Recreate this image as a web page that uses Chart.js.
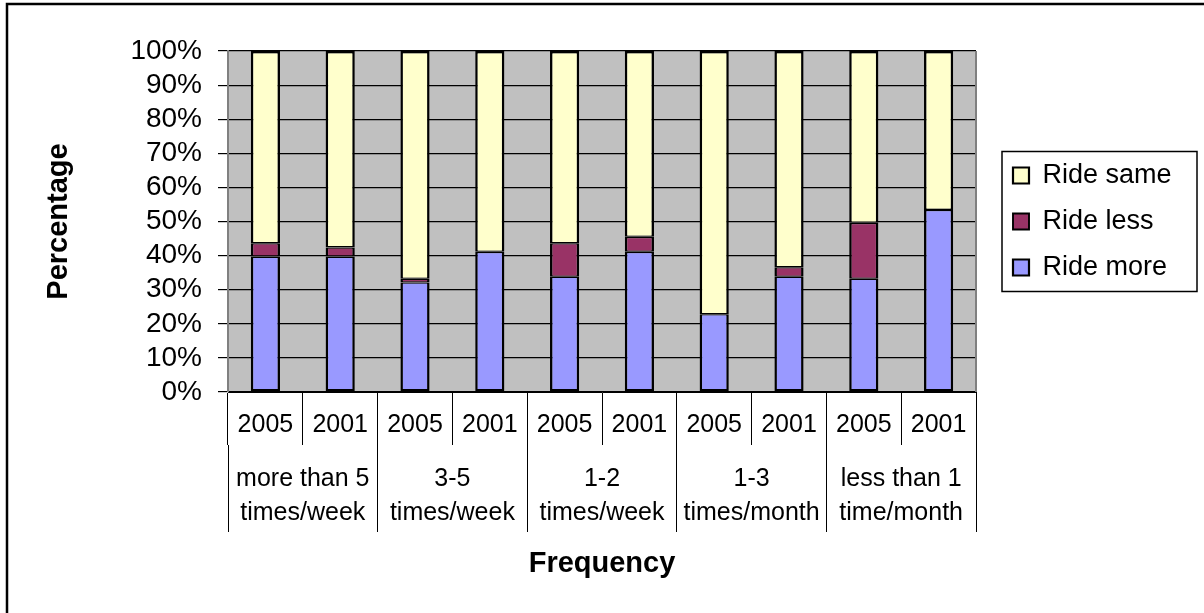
<!DOCTYPE html>
<html>
<head>
<meta charset="utf-8">
<script src="https://cdn.jsdelivr.net/npm/chart.js@4.4.1/dist/chart.umd.min.js"></script>
<style>
  html, body { margin: 0; padding: 0; background: #fff; }
  #wrap { width: 1204px; height: 613px; position: relative; }
</style>
</head>
<body>
<div id="wrap"><canvas id="rideChart"></canvas></div>
<script>
// bars: 2005 / 2001 pairs for each riding frequency
var yearLabels = ['2005', '2001', '2005', '2001', '2005', '2001', '2005', '2001', '2005', '2001'];
var groupLabels = [
  ['more than 5', 'times/week'],
  ['3-5', 'times/week'],
  ['1-2', 'times/week'],
  ['1-3', 'times/month'],
  ['less than 1', 'time/month']
];
var rideMore = [39.7, 39.7, 32.1, 41.1, 33.8, 41.1, 22.8, 33.8, 33.2, 53.4];
var rideLess = [3.9, 2.7, 1.1, 0, 9.8, 4.4, 0, 2.8, 16.4, 0];
var rideSame = [56.4, 57.6, 66.8, 58.9, 56.4, 54.5, 77.2, 63.4, 50.4, 46.6];

Chart.defaults.font.family = '"Liberation Sans", Arial, sans-serif';
Chart.defaults.color = '#000';

var framePlugin = {
  id: 'frame',
  beforeDraw: function (chart) {
    var ctx = chart.ctx, a = chart.chartArea;
    ctx.save();
    ctx.fillStyle = '#fff';
    ctx.fillRect(0, 0, chart.width, chart.height);
    ctx.fillStyle = '#C0C0C0';
    ctx.fillRect(a.left, a.top, a.right - a.left, a.bottom - a.top);
    ctx.restore();
  },
  beforeDatasetsDraw: function (chart) {
    var ctx = chart.ctx, a = chart.chartArea;
    ctx.save();
    ctx.strokeStyle = '#808080';
    ctx.lineWidth = 2;
    ctx.beginPath();
    ctx.moveTo(a.right, a.top);
    ctx.lineTo(a.right, a.bottom);
    ctx.stroke();
    ctx.restore();
  },
  afterDraw: function (chart) {
    var ctx = chart.ctx, lg = chart.legend;
    ctx.save();
    // legend box
    var yc = (lg.top + lg.bottom) / 2;
    ctx.strokeStyle = '#000';
    ctx.lineWidth = 1.5;
    ctx.strokeRect(lg.left + 8, yc - 70, 195, 140);
    // outer chart frame (right and bottom edges fall outside the picture)
    ctx.lineWidth = 2.5;
    ctx.beginPath();
    ctx.moveTo(7, chart.height);
    ctx.lineTo(7, 4);
    ctx.lineTo(chart.width, 4);
    ctx.stroke();
    ctx.restore();
  }
};

var ctx = document.getElementById('rideChart').getContext('2d');
var rideChart = new Chart(ctx, {
  type: 'bar',
  data: {
    labels: yearLabels,
    datasets: [
      {
        label: 'Ride more',
        data: rideMore,
        backgroundColor: '#9999FF',
        borderColor: '#000',
        borderWidth: { top: 1.3, bottom: 2.5, left: 2.5, right: 2.5 },
        borderSkipped: false
      },
      {
        label: 'Ride less',
        data: rideLess,
        backgroundColor: '#993366',
        borderColor: '#000',
        borderWidth: { top: 1.3, bottom: 1.3, left: 2.5, right: 2.5 },
        borderSkipped: false
      },
      {
        label: 'Ride same',
        data: rideSame,
        backgroundColor: '#FFFFCC',
        borderColor: '#000',
        borderWidth: { top: 2.5, bottom: 1.3, left: 2.5, right: 2.5 },
        borderSkipped: false
      }
    ]
  },
  options: {
    responsive: true,
    maintainAspectRatio: false,
    animation: false,
    barPercentage: 0.39,
    categoryPercentage: 1.0,
    layout: { padding: { top: 51, left: 0, right: 30, bottom: 0 } },
    scales: {
      x: {
        type: 'category',
        stacked: true,
        offset: true,
        weight: 0,
        grid: { offset: true, drawOnChartArea: false, tickLength: 53, color: '#000', lineWidth: 1 },
        border: { display: true, color: '#000', width: 1 },
        ticks: { padding: -34.5, font: { size: 25 }, maxRotation: 0, autoSkip: false },
        afterFit: function (s) { s.height = 53; }
      },
      groups: {
        type: 'category',
        position: 'bottom',
        labels: groupLabels,
        offset: true,
        weight: 1,
        grid: { offset: true, drawOnChartArea: false, tickLength: 87, color: '#000', lineWidth: 1 },
        border: { display: false },
        ticks: { padding: -70, font: { size: 25, lineHeight: 1.36 }, maxRotation: 0, autoSkip: false },
        title: {
          display: true,
          text: 'Frequency',
          font: { size: 29, weight: 'bold' },
          padding: { top: 0, bottom: 32 }
        },
        afterFit: function (s) { s.height = 168; }
      },
      y: {
        stacked: true,
        min: 0,
        max: 100,
        ticks: {
          stepSize: 10,
          autoSkip: false,
          padding: 16,
          font: { size: 28 },
          callback: function (v) { return v + '%'; }
        },
        grid: { color: '#000', lineWidth: 1.2, tickLength: 10, tickColor: '#000' },
        border: { display: true, color: '#808080', width: 2 },
        title: {
          display: true,
          text: 'Percentage',
          font: { size: 29, weight: 'bold' },
          padding: { top: 42, bottom: 0 }
        },
        afterFit: function (s) { s.width = 228; }
      },
      spacer: {
        type: 'linear',
        position: 'right',
        display: true,
        grid: { display: false },
        border: { display: false },
        ticks: { display: false },
        afterFit: function (s) { s.width = 18; }
      }
    },
    plugins: {
      tooltip: { enabled: false },
      legend: {
        position: 'right',
        fullSize: false,
        reverse: true,
        maxWidth: 180,
        labels: {
          boxWidth: 16,
          boxHeight: 16,
          padding: 19,
          font: { size: 27 },
          color: '#000'
        }
      }
    }
  },
  plugins: [framePlugin]
});
</script>
</body>
</html>
